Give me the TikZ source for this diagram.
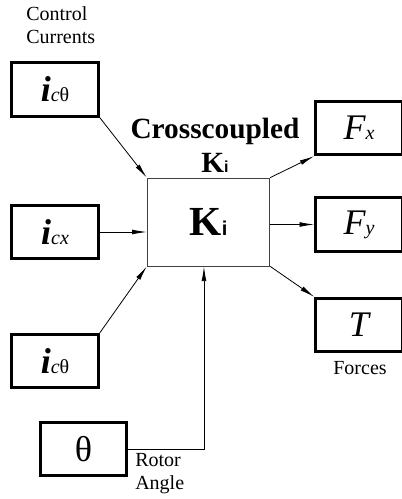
\documentclass[tikz,border=0pt]{standalone}
\usepackage{fontspec}
\setmainfont{Liberation Serif}
\newfontfamily\labelsans{Liberation Sans}
\usetikzlibrary{arrows.meta}
% big symbol with its small index
\newcommand{\varsym}[2]{{\fontsize{27}{30}\selectfont #1}{\fontsize{15}{18}\selectfont #2}}

\begin{document}
\begin{tikzpicture}
[x=0.75pt, y=-0.75pt, >={Latex[length=11pt,width=3.6pt]}]
\tikzstyle{varbox}=[draw, line width=2.2pt, minimum width=65pt, minimum height=40pt, inner sep=0pt]
\tikzstyle{gainbox}=[draw=black!75, line width=0.6pt, minimum width=92pt, minimum height=66pt, inner sep=0pt]
\tikzstyle{wire}=[line width=0.6pt, ->]
\tikzstyle{note}=[inner sep=0pt, align=left, font=\fontsize{15}{17.5}\selectfont]
\useasboundingbox (0,0) rectangle (402,499);

\node[note, anchor=north west] (ctrl)  at (26,6)    {Control\\Currents};
\node[varbox]	(IcA)	at (55,89.5)	{\varsym{\bfseries\itshape i}{\itshape c\upshape θ}};
\node[varbox]	(Icx)	at (55,232)	{\varsym{\bfseries\itshape i}{\itshape cx}};
\node[varbox]	(IcB)	at (55,361)	{\varsym{\bfseries\itshape i}{\itshape c\upshape θ}};
\node[varbox]	(Th)	at (83.5,449)	{\fontsize{27}{30}\selectfont θ};
\node[note, anchor=north west] (rotor) at (135,453) {Rotor\\Angle};

\node[align=center, inner sep=0pt, font=\bfseries\fontsize{22}{25.5}\selectfont]
      (title) at (215,145) {Crosscoupled\\K{\labelsans\fontsize{12}{14}\selectfont i}};
\node[gainbox]	(K)	at (208.5,222)	{\fontsize{31}{34}\selectfont\bfseries K{\labelsans\fontsize{15}{18}\selectfont i}};

\node[varbox]	(Fx)	at (359,128)	{\varsym{\itshape F}{\itshape x}};
\node[varbox]	(Fy)	at (359,224.5)	{\varsym{\itshape F}{\itshape y}};
\node[varbox]	(Tq)	at (359,325)	{\varsym{\itshape T}{}};
\node[note]	(forces)	at (360,368)	{Forces};

\draw [wire] (IcA.south east) -- (K.north west);
\draw [wire] (Icx.east) -- (K.west |- Icx);
\draw [wire] (IcB.north east) -- (K.south west);
\draw [wire] (K.north east) -- (Fx.south west);
\draw [wire] (K.east |- Fy) -- (Fy.west);
\draw [wire] (K.south east) -- (Tq.north west);
\draw [wire] (Th.east) -| ([xshift=-3.4pt]K.south);
\end{tikzpicture}
\end{document}
